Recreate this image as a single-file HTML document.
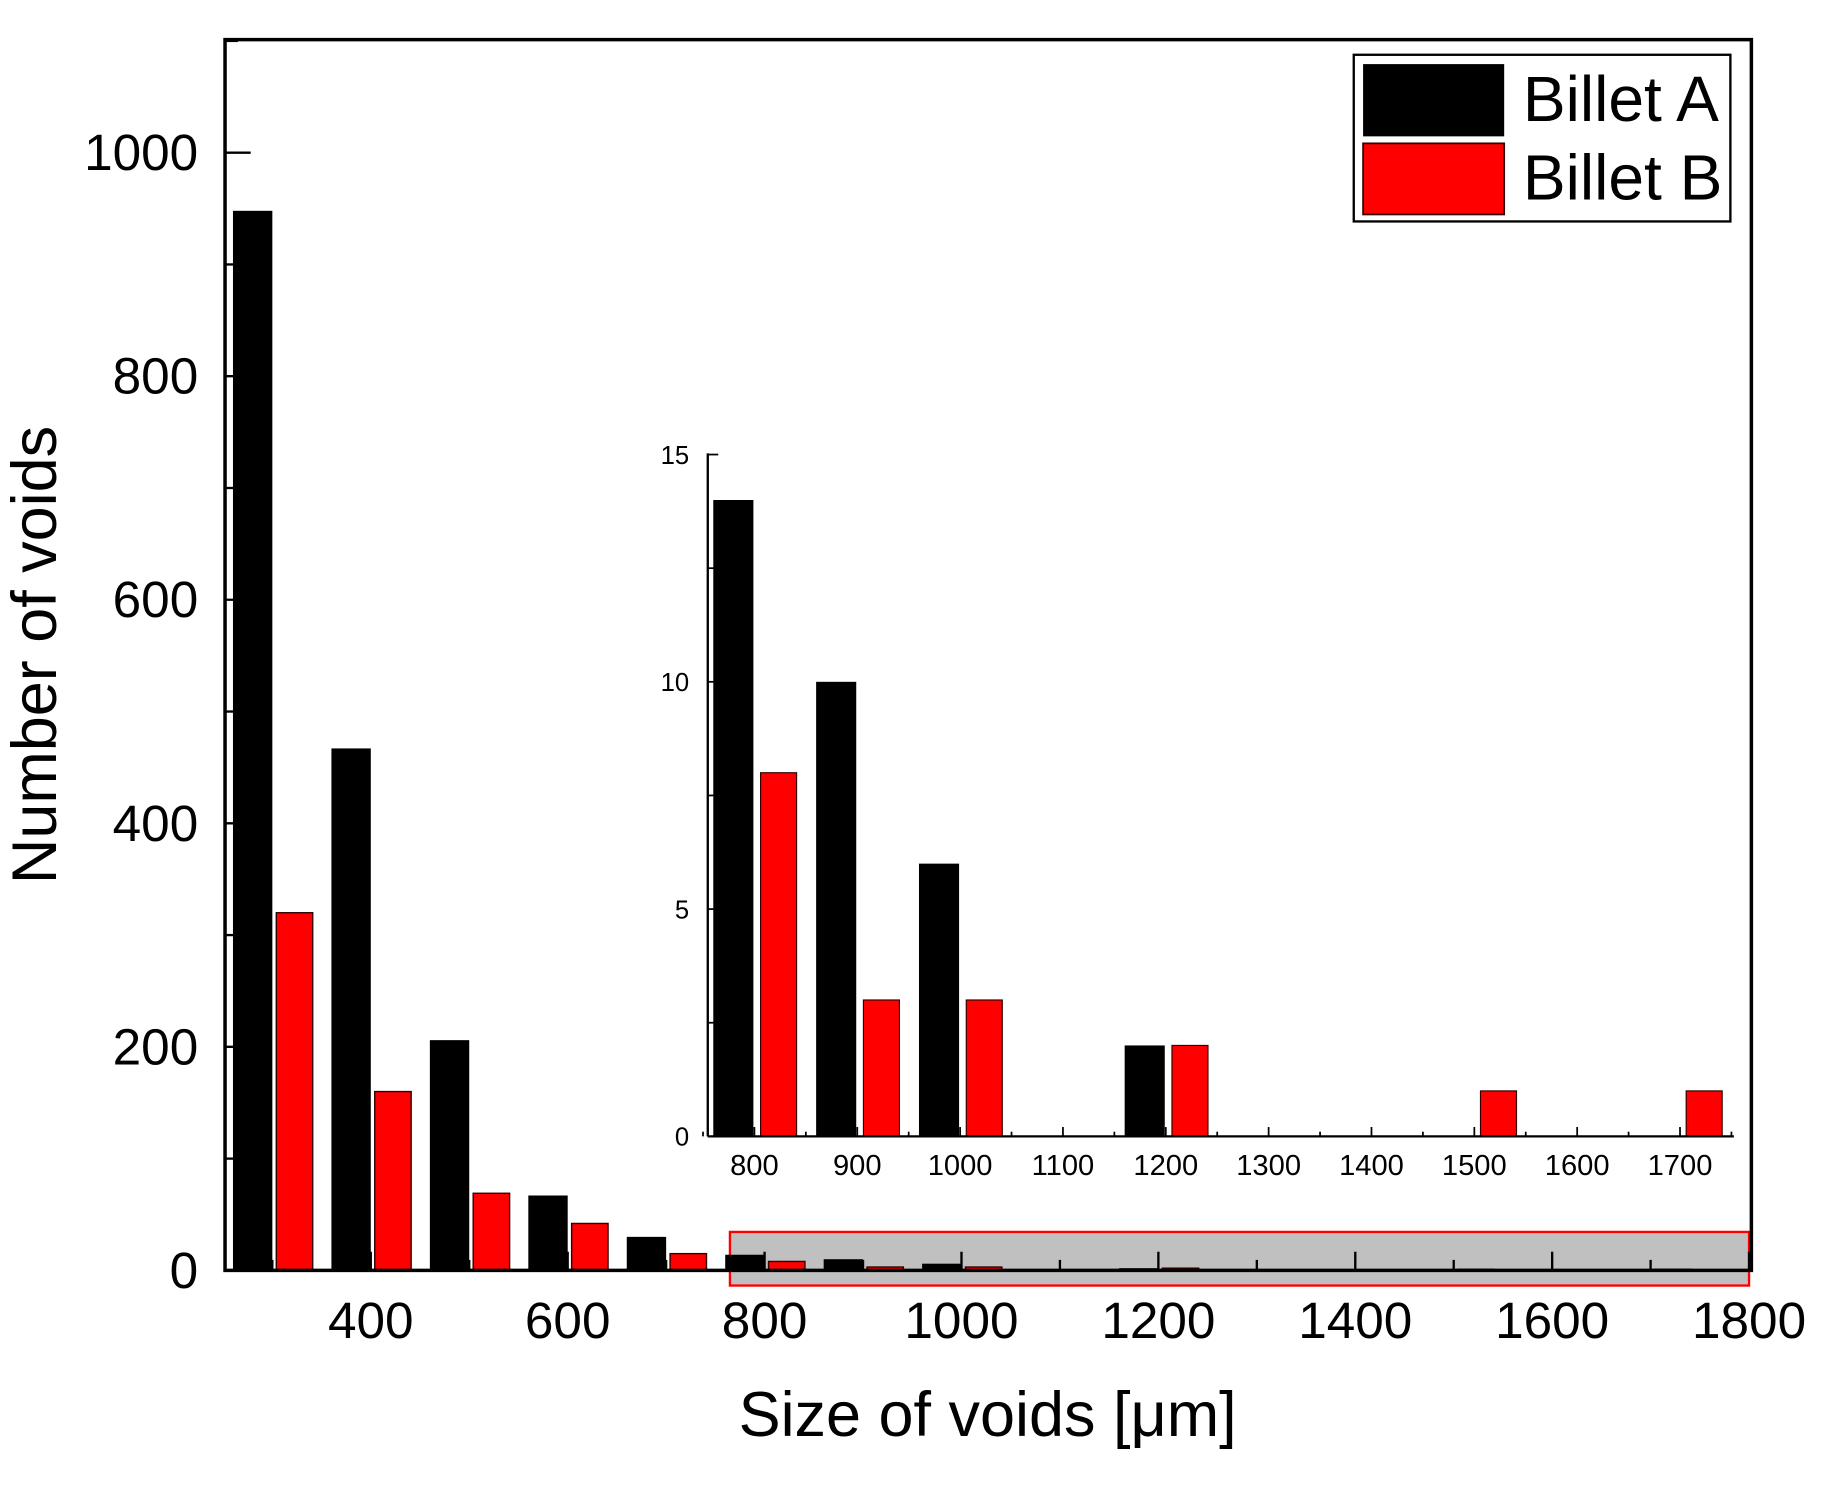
<!DOCTYPE html>
<html><head><meta charset="utf-8"><style>
html,body{margin:0;padding:0;background:#fff;}
svg{display:block;}
text{font-family:"Liberation Sans",sans-serif;}
</style></head><body>
<svg id="chart" width="1826" height="1493" viewBox="0 0 1566 1281" preserveAspectRatio="none" xmlns="http://www.w3.org/2000/svg">
<g id="g"></g>
</svg>
<script>
const categories=[300,400,500,600,700,800,900,1000,1100,1200,1300,1400,1500,1600,1700];
const billetA=[948,467,206,67,30,14,10,6,0,2,0,0,0,0,0];
const billetB=[320,160,69,42,15,8,3,3,0,2,0,0,1,0,1];
const mainXTicks=[400,600,800,1000,1200,1400,1600,1800];
const mainYTicks=[0,200,400,600,800,1000];
const insetXTicks=[800,900,1000,1100,1200,1300,1400,1500,1600,1700];
const insetYTicks=[0,5,10,15];

const NS="http://www.w3.org/2000/svg";
const g=document.getElementById('g');
function el(tag,attrs,parent){const e=document.createElementNS(NS,tag);for(const k in attrs)e.setAttribute(k,attrs[k]);(parent||g).appendChild(e);return e;}
const X=v=>318+(v-400)*0.8443;
const Y=v=>1090-v*0.959;
const IX=v=>647+(v-800)*0.882;
const IY=v=>975-v*39;

let hr=el('rect',{x:626,y:1057,width:874,height:46,fill:'#c0c0c0',stroke:'#ff0000','stroke-width':2});



categories.forEach((c,i)=>{
  if(billetA[i]>0){
    let r=el('rect',{x:X(c-40),y:Y(billetA[i]),width:40*0.8443,height:Y(0)-Y(billetA[i]),fill:'#000'});
    
    
  }
  if(billetB[i]>0){
    let r=el('rect',{x:X(c+4),y:Y(billetB[i]),width:37*0.8443,height:Y(0)-Y(billetB[i]),fill:'#ff0000',stroke:'#300','stroke-width':1.2});
    
    
  }
});

let fr=el('rect',{x:193,y:34,width:1309,height:1056,fill:'none',stroke:'#000','stroke-width':3});



for(let v=300;v<=1800;v+=100){
  let major=mainXTicks.includes(v);
  el('line',{x1:X(v),x2:X(v),y1:1090,y2:1090-(major?16:9),stroke:'#000','stroke-width':2});
}
mainXTicks.forEach(v=>{
  let t=el('text',{x:X(v),y:1148,'font-size':44,'text-anchor':'middle'});t.textContent=v;
  
  
});
for(let v=0;v<=1100;v+=100){
  let major=mainYTicks.includes(v);
  el('line',{x1:193,x2:193+(major?22:11),y1:Y(v),y2:Y(v),stroke:'#000','stroke-width':2});
}
mainYTicks.forEach(v=>{
  let t=el('text',{x:170,y:Y(v)+15,'font-size':44,'text-anchor':'end'});t.textContent=v;
  
  
});
let xt=el('text',{x:847,y:1232,'font-size':54,'text-anchor':'middle'});xt.textContent='Size of voids [μm]';


let yt=el('text',{x:0,y:0,'font-size':54,'text-anchor':'middle',transform:'translate(48,562) rotate(-90)'});yt.textContent='Number of voids';



let lg=el('g',{});


el('rect',{x:1161,y:47,width:323,height:143,fill:'#fff',stroke:'#000','stroke-width':2},lg);
el('rect',{x:1169,y:55,width:121,height:62,fill:'#000'},lg);
el('rect',{x:1169,y:123,width:121,height:61,fill:'#ff0000',stroke:'#300','stroke-width':1.5},lg);
let la=el('text',{x:1306,y:104,'font-size':55},lg);la.textContent='Billet A';


let lb=el('text',{x:1306,y:171,'font-size':55},lg);lb.textContent='Billet B';



let ins=el('g',{});


categories.forEach((c,i)=>{
  if(c<800)return;
  if(billetA[i]>0){
    let r=el('rect',{x:IX(c-40),y:IY(billetA[i]),width:39*0.882,height:IY(0)-IY(billetA[i]),fill:'#000'},ins);
    
    
  }
  if(billetB[i]>0){
    let r=el('rect',{x:IX(c+6),y:IY(billetB[i]),width:35*0.882,height:IY(0)-IY(billetB[i]),fill:'#ff0000',stroke:'#300','stroke-width':1},ins);
    
    
  }
});
el('line',{x1:607,x2:1487,y1:975,y2:975,stroke:'#000','stroke-width':2},ins);
el('line',{x1:607,x2:607,y1:389,y2:975,stroke:'#000','stroke-width':2},ins);
for(let v=750;v<=1750;v+=50){
  let major=v%100===0;
  el('line',{x1:IX(v),x2:IX(v),y1:975,y2:975-(major?8:4),stroke:'#000','stroke-width':1.5},ins);
}
insetXTicks.forEach(v=>{
  let t=el('text',{x:IX(v),y:1008,'font-size':25,'text-anchor':'middle'},ins);t.textContent=v;
  
  
});
for(let v=0;v<=15;v+=2.5){
  let major=v%5===0;
  el('line',{x1:607,x2:607+(major?9:5),y1:IY(v),y2:IY(v),stroke:'#000','stroke-width':1.5},ins);
}
insetYTicks.forEach(v=>{
  let t=el('text',{x:591,y:IY(v)+8,'font-size':22,'text-anchor':'end'},ins);t.textContent=v;
  
  
});
</script>
</body></html>
